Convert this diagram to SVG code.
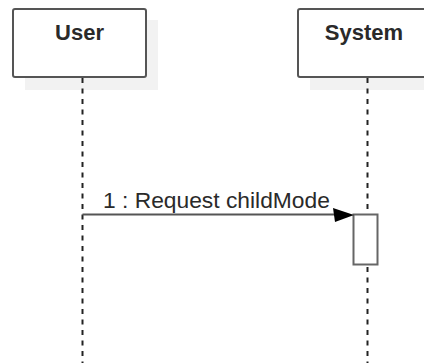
<svg xmlns="http://www.w3.org/2000/svg" width="424" height="363" viewBox="0 0 424 363">
  <style>
    .shadow { fill: #f2f2f2; }
    .box { fill: #ffffff; stroke: #555555; stroke-width: 2; }
    .title { font-family: "Liberation Sans", Arial, sans-serif; font-weight: bold; font-size: 22px; fill: #2a2a2a; text-anchor: middle; }
    .life { stroke: #222222; stroke-width: 2; stroke-dasharray: 5 5.5; fill: none; }
    .msg { stroke: #555555; stroke-width: 2; fill: none; }
    .label { font-family: "Liberation Sans", Arial, sans-serif; font-size: 22.8px; fill: #2a2a2a; }
    .act { fill: #ffffff; stroke: #666666; stroke-width: 2; }
  </style>
  <rect width="424" height="363" fill="#ffffff"/>
  <g id="user">
    <rect class="shadow" x="25" y="20" width="133" height="70"/>
    <line class="life" x1="82.5" y1="78" x2="82.5" y2="363"/>
    <rect class="box" x="13" y="9" width="133" height="68" rx="2"/>
    <text class="title" x="79.5" y="40">User</text>
  </g>
  <g id="system">
    <rect class="shadow" x="310" y="20" width="133" height="70"/>
    <line class="life" x1="367.5" y1="78" x2="367.5" y2="363"/>
    <rect class="box" x="298" y="9" width="140" height="68" rx="2"/>
    <text class="title" x="364" y="40">System</text>
    <rect class="act" x="353.5" y="214.5" width="24" height="50"/>
  </g>
  <g id="connectors">
    <line class="msg" x1="82.5" y1="214.5" x2="345" y2="214.5"/>
    <polygon points="333,208 354,215 335,222" fill="#000000"/>
    <text class="label" x="103" y="208">1 : Request childMode</text>
  </g>
</svg>
